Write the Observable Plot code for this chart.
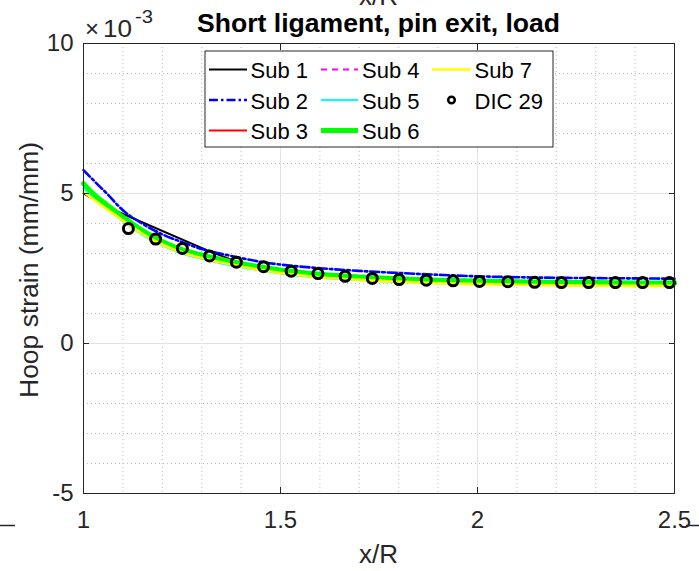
<!DOCTYPE html>
<html><head><meta charset="utf-8">
<script src="https://cdn.jsdelivr.net/npm/d3@7"></script>
<script src="https://cdn.jsdelivr.net/npm/@observablehq/plot@0.6"></script>
<style>
body{margin:0;background:#fff;}
#wrap{position:relative;width:699px;height:571px;overflow:hidden;background:#fff;}
#wrap svg{position:absolute;left:0;top:0;}
</style></head><body><div id="wrap"></div>
<script>
// ---- data (strain values in units of 1e-3) ----
const xTicks = [1, 1.5, 2, 2.5];
const yTicks = [-5, 0, 5, 10];
const xTickLabels = ["1", "1.5", "2", "2.5"];
const yTickLabels = ["-5", "0", "5", "10"];
const xMinor = [1.1, 1.2, 1.3, 1.4, 1.6, 1.7, 1.8, 1.9, 2.1, 2.2, 2.3, 2.4];
const yMinor = [-4, -3, -2, -1, 1, 2, 3, 4, 6, 7, 8, 9];

const sub1X = [1.0, 1.068, 1.313, 1.39];
const sub1Y = [5.0, 4.5, 3.11, 2.72];

const subX = [1.00, 1.03, 1.06, 1.10, 1.15, 1.20, 1.25, 1.30, 1.35, 1.40, 1.45, 1.50, 1.60, 1.70, 1.80, 1.90, 2.00, 2.10, 2.20, 2.30, 2.40, 2.50];
const sub2Y = [5.78, 5.38, 4.99, 4.44, 3.99, 3.64, 3.38, 3.15, 2.99, 2.85, 2.72, 2.63, 2.51, 2.42, 2.35, 2.29, 2.24, 2.21, 2.19, 2.18, 2.17, 2.16];
const sub3Y = [5.30, 4.90, 4.59, 4.19, 3.73, 3.37, 3.10, 2.92, 2.77, 2.64, 2.52, 2.43, 2.29, 2.20, 2.14, 2.09, 2.06, 2.04, 2.02, 2.01, 2.00, 2.00];
const sub4Y = [5.28, 4.89, 4.58, 4.18, 3.73, 3.37, 3.10, 2.92, 2.77, 2.64, 2.53, 2.43, 2.29, 2.20, 2.14, 2.09, 2.06, 2.04, 2.02, 2.01, 2.00, 2.00];
const sub5Y = [5.17, 4.80, 4.49, 4.08, 3.62, 3.27, 3.00, 2.82, 2.67, 2.54, 2.43, 2.33, 2.19, 2.11, 2.05, 2.01, 1.98, 1.96, 1.94, 1.93, 1.92, 1.92];
const sub6Y = [5.33, 4.93, 4.62, 4.22, 3.76, 3.40, 3.13, 2.95, 2.80, 2.67, 2.55, 2.45, 2.31, 2.22, 2.16, 2.11, 2.08, 2.06, 2.04, 2.03, 2.02, 2.02];
const sub7Y = [5.06, 4.76, 4.47, 4.10, 3.65, 3.30, 3.03, 2.85, 2.70, 2.57, 2.45, 2.35, 2.21, 2.12, 2.06, 2.01, 1.98, 1.96, 1.94, 1.93, 1.92, 1.92];

const dicX = [1.114, 1.183, 1.251, 1.320, 1.388, 1.457, 1.527, 1.595, 1.664, 1.733, 1.801, 1.870, 1.938, 2.005, 2.077, 2.145, 2.213, 2.282, 2.350, 2.419, 2.487];
const dicY = [3.83, 3.48, 3.17, 2.92, 2.71, 2.56, 2.41, 2.33, 2.24, 2.17, 2.13, 2.11, 2.09, 2.07, 2.06, 2.04, 2.03, 2.03, 2.03, 2.03, 2.03];

const titleText = "Short ligament, pin exit, load";
const xLabel = "x/R";
const yLabel = "Hoop strain (mm/mm)";

// ---- styles ----
const series = [
  {name: "Sub 1", x: sub1X, y: sub1Y, stroke: "#000000", width: 2, dash: null, curve: "linear"},
  {name: "Sub 2", x: subX, y: sub2Y, stroke: "#0000ff", width: 2.6, dash: "9,3,2.5,3", curve: "monotone-x"},
  {name: "Sub 3", x: subX, y: sub3Y, stroke: "#ff0000", width: 2, dash: null, curve: "monotone-x"},
  {name: "Sub 4", x: subX, y: sub4Y, stroke: "#ff00ff", width: 2, dash: "6,5", curve: "monotone-x"},
  {name: "Sub 5", x: subX, y: sub5Y, stroke: "#00ffff", width: 2, dash: null, curve: "monotone-x"},
  {name: "Sub 6", x: subX, y: sub6Y, stroke: "#00ff00", width: 5, dash: null, curve: "monotone-x"},
  {name: "Sub 7", x: subX, y: sub7Y, stroke: "#ffff00", width: 2.6, dash: null, curve: "monotone-x"}
];
const dicName = "DIC 29";
const ink = "#262626";

const toRows = (xs, ys) => xs.map((x, i) => ({x, y: ys[i]}));
const fmtX = d => xTickLabels[xTicks.indexOf(d)];
const fmtY = d => yTickLabels[yTicks.indexOf(d)];

const chart = Plot.plot({
  width: 699, height: 571,
  marginLeft: 83, marginRight: 25, marginTop: 43, marginBottom: 78,
  x: {domain: [1, 2.5]},
  y: {domain: [-5, 10]},
  style: {fontFamily: "'Liberation Sans', Arial, sans-serif", fontSize: "24px", color: ink, background: "white", overflow: "visible"},
  marks: [
    Plot.gridX(xMinor, {stroke: "#bdbdbd", strokeOpacity: 1, strokeDasharray: "1,3"}),
    Plot.gridY(yMinor, {stroke: "#bdbdbd", strokeOpacity: 1, strokeDasharray: "1,3"}),
    Plot.gridX(xTicks, {stroke: "#e2e2e2", strokeOpacity: 1}),
    Plot.gridY(yTicks, {stroke: "#e2e2e2", strokeOpacity: 1}),
    ...series.map(s => Plot.line(toRows(s.x, s.y), {x: "x", y: "y", stroke: s.stroke, strokeWidth: s.width, strokeDasharray: s.dash, curve: s.curve})),
    Plot.dot(toRows(dicX, dicY), {x: "x", y: "y", r: 5, stroke: "#000", strokeWidth: 3, fill: "none"}),
    Plot.frame({stroke: ink, strokeWidth: 1}),
    Plot.axisX(xTicks, {anchor: "bottom", tickSize: 0, tickPadding: 17, tickFormat: fmtX, label: null, fontSize: 24}),
    Plot.axisY(yTicks, {anchor: "left", tickSize: 0, tickPadding: 10, tickFormat: fmtY, label: null, fontSize: 24}),
    Plot.axisX(xTicks, {anchor: "bottom", tickSize: -6, tickFormat: () => "", label: null}),
    Plot.axisX(xTicks, {anchor: "top", tickSize: -6, tickFormat: () => "", label: null}),
    Plot.axisY(yTicks, {anchor: "left", tickSize: -6, tickFormat: () => "", label: null}),
    Plot.axisY(yTicks, {anchor: "right", tickSize: -6, tickFormat: () => "", label: null})
  ]
});
const wrap = document.getElementById("wrap");
wrap.appendChild(chart);

// ---- overlay: titles, labels, legend ----
const NS = "http://www.w3.org/2000/svg";
const ov = document.createElementNS(NS, "svg");
ov.setAttribute("width", 699); ov.setAttribute("height", 571);
ov.style.fontFamily = "'Liberation Sans', Arial, sans-serif";
ov.style.pointerEvents = "none";
wrap.appendChild(ov);
function el(tag, attrs, text) {
  const e = document.createElementNS(NS, tag);
  for (const k in attrs) if (attrs[k] != null) e.setAttribute(k, attrs[k]);
  if (text != null) e.textContent = text;
  ov.appendChild(e);
  return e;
}
const cx = 378.6;
// clipped label from a plot above
el("text", {x: cx, y: 5, "text-anchor": "middle", "font-size": 26, fill: ink}, xLabel);
el("text", {x: cx, y: 32, "text-anchor": "middle", "font-size": 26, "font-weight": "bold", fill: "#000", textLength: 363, lengthAdjust: "spacingAndGlyphs"}, titleText);
el("text", {x: 85, y: 37, "font-size": 24, fill: ink}, "\u00d7");
el("text", {x: 103, y: 37, "font-size": 24, fill: ink, textLength: 29, lengthAdjust: "spacingAndGlyphs"}, "10");
el("text", {x: 135, y: 23, "font-size": 18, fill: ink, textLength: 18, lengthAdjust: "spacingAndGlyphs"}, "-3");
el("text", {x: cx, y: 563, "text-anchor": "middle", "font-size": 26, fill: ink}, xLabel);
el("text", {x: 0, y: 0, "text-anchor": "middle", "font-size": 26, fill: ink, textLength: 256, lengthAdjust: "spacingAndGlyphs", transform: "translate(38,270) rotate(-90)"}, yLabel);
el("line", {x1: 0, x2: 15, y1: 525.5, y2: 525.5, stroke: ink, "stroke-width": 1.5});
el("line", {x1: 686, x2: 699, y1: 525.5, y2: 525.5, stroke: ink, "stroke-width": 1.5});

// legend
el("rect", {x: 205, y: 51, width: 348, height: 96, fill: "#fff", stroke: ink, "stroke-width": 1});
const cols = [{x0: 209, x1: 247, tx: 250.5}, {x0: 321, x1: 358, tx: 362}, {x0: 432, x1: 471, tx: 474.5}];
const rowsY = [69.5, 100, 130.5];
const items = [...series.map(s => ({...s, kind: "line"})), {name: dicName, kind: "dot"}];
items.forEach((it, i) => {
  const c = cols[Math.floor(i / 3)], ry = rowsY[i % 3];
  if (it.kind === "line") {
    el("line", {x1: c.x0, x2: c.x1, y1: ry, y2: ry, stroke: it.stroke, "stroke-width": it.width, "stroke-dasharray": it.dash});
  } else {
    el("circle", {cx: (c.x0 + c.x1) / 2, cy: ry, r: 3.3, stroke: "#000", "stroke-width": 2.5, fill: "none"});
  }
  el("text", {x: c.tx, y: ry + 8.5, "font-size": 22, fill: "#000"}, it.name);
});
</script></body></html>
